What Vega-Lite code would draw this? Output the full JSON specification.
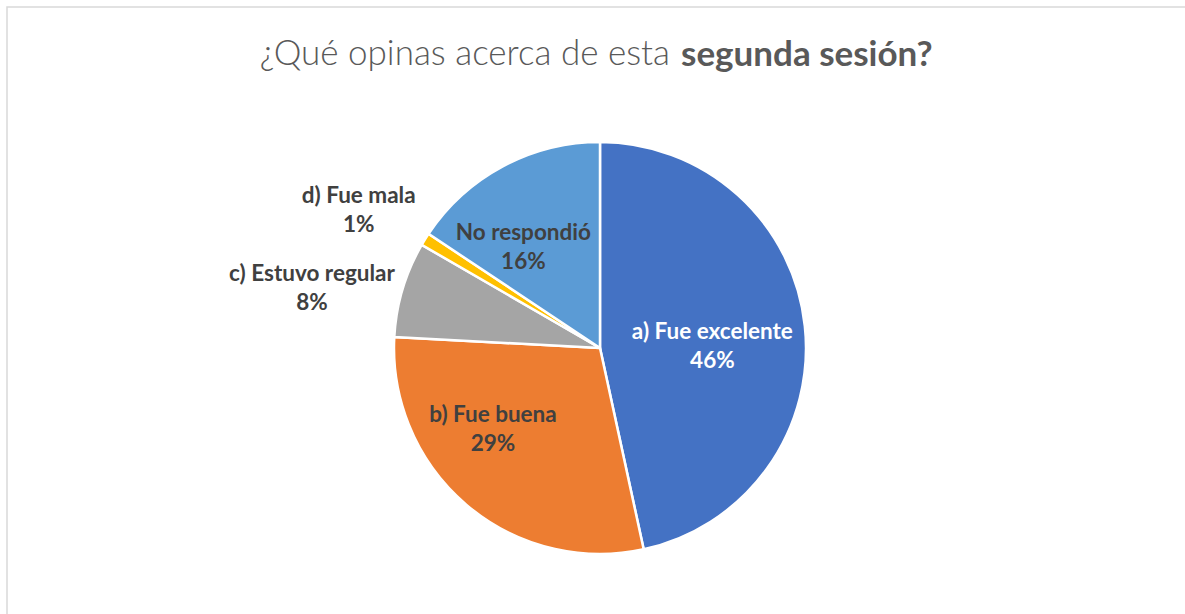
{
  "$schema": "https://vega.github.io/schema/vega-lite/v6.json",
  "padding": {"left": 6, "top": 6, "right": 0, "bottom": 0},
  "autosize": {"type": "pad"},
  "background": "white",
  "config": {
    "view": {"stroke": "#D9D9D9", "strokeWidth": 1.5},
    "concat": {"spacing": 0}
  },
  "title": {
    "text": "¿Qué opinas acerca de esta",
    "anchor": "start",
    "align": "right",
    "frame": "group",
    "baseline": "alphabetic",
    "dx": 663,
    "offset": -94,
    "font": "Lato",
    "fontSize": 35,
    "fontWeight": 300,
    "color": "#595959"
  },
  "data": {
    "values": [
      {"cat": "a) Fue excelente", "valor": 46.6, "orden": 1, "etiqueta": ["a) Fue excelente", "46%"]},
      {"cat": "b) Fue buena", "valor": 29.25, "orden": 2, "etiqueta": ["b) Fue buena", "29%"]},
      {"cat": "c) Estuvo regular", "valor": 7.5, "orden": 3, "etiqueta": ["c) Estuvo regular", "8%"]},
      {"cat": "d) Fue mala", "valor": 1.0, "orden": 4, "etiqueta": ["d) Fue mala", "1%"]},
      {"cat": "No respondió", "valor": 15.65, "orden": 5, "etiqueta": ["No respondió", "16%"]}
    ]
  },
  "vconcat": [
    {
      "title": {
        "text": "segunda sesión?",
        "anchor": "start",
        "align": "left",
        "frame": "group",
        "baseline": "alphabetic",
        "dx": 674,
        "offset": -94,
        "font": "Lato",
        "fontSize": 35,
        "fontWeight": "bold",
        "color": "#595959"
      },
      "view": {"stroke": "#D9D9D9", "strokeWidth": 1.5, "fill": "white"},
      "width": 1186,
      "height": 682,
      "layer": [
        {
          "mark": {"type": "arc", "outerRadius": 206, "stroke": "white", "strokeWidth": 2.5},
          "encoding": {
            "theta": {"field": "valor", "type": "quantitative", "stack": true},
            "order": {"field": "orden", "type": "quantitative"},
            "color": {
              "field": "cat",
              "type": "nominal",
              "scale": {
                "domain": ["a) Fue excelente", "b) Fue buena", "c) Estuvo regular", "d) Fue mala", "No respondió"],
                "range": ["#4472C4", "#ED7D31", "#A5A5A5", "#FFC000", "#5B9BD5"]
              },
              "legend": null
            }
          }
        },
        {
          "mark": {"type": "text", "radius": 113, "dy": -4, "font": "Lato", "fontSize": 22.5, "fontWeight": "bold", "lineHeight": 29, "align": "center", "baseline": "middle", "color": "white"},
          "encoding": {
            "theta": {"field": "valor", "type": "quantitative", "stack": true},
            "order": {"field": "orden", "type": "quantitative"},
            "text": {"condition": {"test": "datum.orden == 1", "field": "etiqueta", "type": "nominal"}, "value": ""}
          }
        },
        {
          "mark": {"type": "text", "radius": 135, "dx": -19.5, "dy": -35.5, "font": "Lato", "fontSize": 22.5, "fontWeight": "bold", "lineHeight": 29, "align": "center", "baseline": "middle", "color": "#404040"},
          "encoding": {
            "theta": {"field": "valor", "type": "quantitative", "stack": true},
            "order": {"field": "orden", "type": "quantitative"},
            "text": {"condition": {"test": "datum.orden == 2", "field": "etiqueta", "type": "nominal"}, "value": ""}
          }
        },
        {
          "mark": {"type": "text", "radius": 290, "dx": -10, "dy": 8.5, "font": "Lato", "fontSize": 22.5, "fontWeight": "bold", "lineHeight": 29, "align": "center", "baseline": "middle", "color": "#404040"},
          "encoding": {
            "theta": {"field": "valor", "type": "quantitative", "stack": true},
            "order": {"field": "orden", "type": "quantitative"},
            "text": {"condition": {"test": "datum.orden == 3", "field": "etiqueta", "type": "nominal"}, "value": ""}
          }
        },
        {
          "mark": {"type": "text", "radius": 270, "dx": -12, "dy": -9, "font": "Lato", "fontSize": 22.5, "fontWeight": "bold", "lineHeight": 29, "align": "center", "baseline": "middle", "color": "#404040"},
          "encoding": {
            "theta": {"field": "valor", "type": "quantitative", "stack": true},
            "order": {"field": "orden", "type": "quantitative"},
            "text": {"condition": {"test": "datum.orden == 4", "field": "etiqueta", "type": "nominal"}, "value": ""}
          }
        },
        {
          "mark": {"type": "text", "radius": 120, "dx": -20, "dy": -9.5, "font": "Lato", "fontSize": 22.5, "fontWeight": "bold", "lineHeight": 29, "align": "center", "baseline": "middle", "color": "#404040"},
          "encoding": {
            "theta": {"field": "valor", "type": "quantitative", "stack": true},
            "order": {"field": "orden", "type": "quantitative"},
            "text": {"condition": {"test": "datum.orden == 5", "field": "etiqueta", "type": "nominal"}, "value": ""}
          }
        }
      ]
    }
  ]
}
